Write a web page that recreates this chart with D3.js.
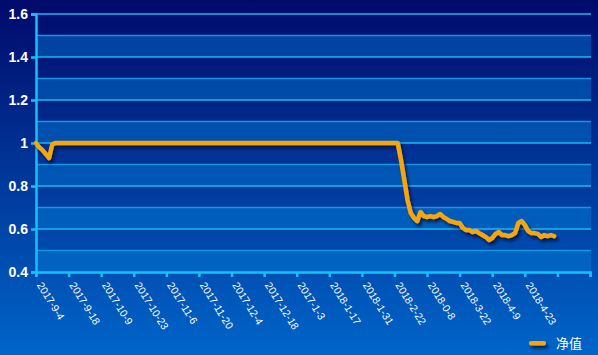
<!DOCTYPE html>
<html><head><meta charset="utf-8">
<script src="https://cdn.jsdelivr.net/npm/d3@7"></script>
<style>html,body{margin:0;padding:0;background:#000a6b;}svg{display:block;}</style>
</head><body>
<svg id="chart" width="598" height="355"></svg>
<script>
const seriesName = "净值";
const tickLabels = ["2017-9-4","2017-9-18","2017-10-9","2017-10-23","2017-11-6","2017-11-20","2017-12-4","2017-12-18","2017-1-3","2018-1-17","2018-1-31","2018-2-22","2018-0-8","2018-3-22","2018-4-9","2018-4-23","",""];
const yTicks = [0.4,0.6,0.8,1,1.2,1.4,1.6];
const values = [
  1, 0.98, 0.967, 0.949, 0.93, 0.995,
  1, 1, 1, 1, 1, 1, 1, 1, 1, 1,
  1, 1, 1, 1, 1, 1, 1, 1, 1, 1,
  1, 1, 1, 1, 1, 1, 1, 1, 1, 1,
  1, 1, 1, 1, 1, 1, 1, 1, 1, 1,
  1, 1, 1, 1, 1, 1, 1, 1, 1, 1,
  1, 1, 1, 1, 1, 1, 1, 1, 1, 1,
  1, 1, 1, 1, 1, 1, 1, 1, 1, 1,
  1, 1, 1, 1, 1, 1, 1, 1, 1, 1,
  1, 1, 1, 1, 1, 1, 1, 1, 1, 1,
  1, 1, 1, 1, 1, 1, 1, 1, 1, 1,
  1, 1, 1, 1, 1, 1,
  0.921, 0.828, 0.735, 0.674, 0.651, 0.637, 0.679, 0.660, 0.656, 0.660,
  0.656, 0.660, 0.670, 0.656, 0.647, 0.637, 0.633, 0.628, 0.628, 0.605,
  0.595, 0.595, 0.586, 0.591, 0.581, 0.572, 0.563, 0.549, 0.558, 0.577,
  0.586, 0.572, 0.572, 0.567, 0.572, 0.581, 0.628, 0.637, 0.619, 0.591,
  0.581, 0.581, 0.577, 0.563, 0.572, 0.567, 0.572, 0.567
];
const categoriesPerTick = 10;

(function(){
const svg = d3.select("#chart");
const W = 598, H = 355;
const mLeft = 36, mRight = 591, mTop = 14, mBottom = 272;

const defs = svg.append("defs");
const grad = defs.append("linearGradient").attr("id","bg").attr("x1",0).attr("y1",0).attr("x2",0).attr("y2",1);
grad.append("stop").attr("offset","0%").attr("stop-color","#000a6b");
grad.append("stop").attr("offset","100%").attr("stop-color","#0065c9");
const f = defs.append("filter").attr("id","shadow").attr("filterUnits","userSpaceOnUse")
  .attr("x",0).attr("y",0).attr("width",W).attr("height",H);
f.append("feDropShadow").attr("dx",2).attr("dy",3).attr("stdDeviation",1.5).attr("flood-color","#000a3a").attr("flood-opacity",0.8);

svg.append("rect").attr("width",W).attr("height",H).attr("fill","url(#bg)");

const nTicks = tickLabels.length;
const x = d3.scaleLinear().domain([0,(nTicks-1)*categoriesPerTick]).range([mLeft,mRight-1]);
const y = d3.scaleLinear().domain([0.4,1.6]).range([mBottom,mTop]);

const bandTops = d3.range(0.5,1.6,0.2).map(v=>+v.toFixed(1));
svg.append("g").selectAll("rect").data(bandTops).join("rect")
  .attr("x",mLeft).attr("width",mRight-mLeft)
  .attr("y",d=>y(d)).attr("height",d=>y(d-0.1)-y(d))
  .attr("fill","rgba(0,130,220,0.42)");

svg.append("g").selectAll("line").data(bandTops).join("line")
  .attr("x1",mLeft).attr("x2",mRight).attr("y1",d=>y(d)).attr("y2",d=>y(d))
  .attr("stroke","#1896e0").attr("stroke-width",1.5);
svg.append("g").selectAll("line").data(yTicks.filter(v=>v>0.4)).join("line")
  .attr("x1",mLeft).attr("x2",mRight).attr("y1",d=>y(d)).attr("y2",d=>y(d))
  .attr("stroke","#1ab8f0").attr("stroke-width",1.5);

const yAxis = d3.axisLeft(y).tickValues(yTicks).tickSize(5).tickFormat(d=>d3.format("")(d));
const gy = svg.append("g").attr("transform",`translate(${mLeft},0)`).call(yAxis);
gy.select(".domain").attr("stroke","#12c2f8").attr("stroke-width",2.5);
gy.selectAll(".tick line").attr("stroke","#12c2f8").attr("stroke-width",2.5);
gy.selectAll(".tick text").attr("fill","#ffffff").attr("font-family","Liberation Sans, Arial, sans-serif")
  .attr("font-size",14).attr("font-weight","bold").attr("x",-8);

const xTickVals = d3.range(nTicks).map(i=>i*categoriesPerTick);
const xAxis = d3.axisBottom(x).tickValues(xTickVals).tickSize(5).tickFormat((d,i)=>tickLabels[i]);
const gx = svg.append("g").attr("transform",`translate(0,${mBottom})`).call(xAxis);
gx.select(".domain").attr("stroke","#12c2f8").attr("stroke-width",2.5);
gx.selectAll(".tick line").attr("stroke","#12c2f8").attr("stroke-width",2.5);
gx.selectAll(".tick text").attr("fill","#ffffff").attr("font-family","Liberation Sans, Arial, sans-serif")
  .attr("font-size",10.5).attr("text-anchor","start").attr("dy",0).attr("y",0)
  .attr("transform","translate(0,13) rotate(58)");

const line = d3.line().x((d,i)=>x(i)).y(d=>y(d)).curve(d3.curveLinear);
svg.append("path").datum(values).attr("d",line).attr("fill","none")
  .attr("stroke","#f5a60c").attr("stroke-width",4.5).attr("stroke-linejoin","round").attr("stroke-linecap","round")
  .attr("filter","url(#shadow)");

const lg = svg.append("g");
lg.append("rect").attr("x",529).attr("y",341).attr("width",17).attr("height",4.5).attr("rx",2)
  .attr("fill","#f5a60c").attr("filter","url(#shadow)");
lg.append("text").attr("x",556).attr("y",348).text(seriesName)
  .attr("fill","#ffffff").attr("font-family","Noto Sans CJK SC, sans-serif").attr("font-size",13);
})();
</script>
</body></html>
